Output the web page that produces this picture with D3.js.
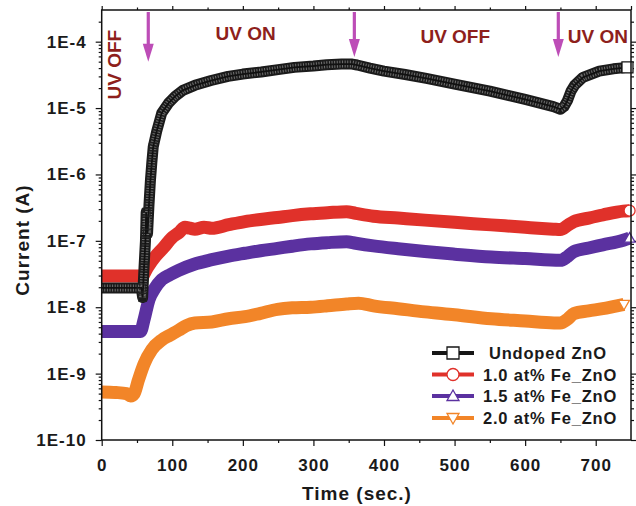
<!DOCTYPE html>
<html>
<head>
<meta charset="utf-8">
<script src="https://cdn.jsdelivr.net/npm/d3@7"></script>
<style>
body { margin: 0; background: #fff; }
text { font-family: "Liberation Sans", Arial, sans-serif; font-weight: bold; }
</style>
</head>
<body>
<svg id="chart" width="636" height="506"></svg>
<script>
// photocurrent vs time
const undopedTime = [0, 10, 20, 30, 40, 50, 56, 58, 60, 62, 63, 65, 67, 69, 71, 73, 78, 85, 95, 104, 115, 132, 155, 179, 200, 226, 250, 273, 300, 319, 340, 355, 362, 380, 400, 430, 460, 500, 550, 600, 640, 650, 655, 660, 665, 670, 682, 705, 725, 745];
const undopedCurrent = [1.95e-8, 1.95e-8, 1.95e-8, 1.95e-8, 1.95e-8, 1.95e-8, 1.95e-8, 1.4e-8, 4e-8, 1.0e-7, 2.7e-7, 1.3e-7, 3.5e-7, 8e-7, 1.5e-6, 2.6e-6, 4.5e-6, 8.4e-6, 1.2e-5, 1.5e-5, 1.85e-5, 2.2e-5, 2.6e-5, 3.0e-5, 3.25e-5, 3.5e-5, 3.8e-5, 4.1e-5, 4.3e-5, 4.5e-5, 4.6e-5, 4.6e-5, 4.45e-5, 4.0e-5, 3.6e-5, 3.2e-5, 2.8e-5, 2.3e-5, 1.8e-5, 1.35e-5, 1.05e-5, 9.6e-6, 1.05e-5, 1.3e-5, 1.8e-5, 2.2e-5, 2.9e-5, 3.6e-5, 3.9e-5, 4.1e-5];

const fe10Time = [0, 20, 40, 57, 65, 76, 88, 99, 110, 118, 125, 132, 145, 156, 180, 203, 225, 249, 270, 296, 320, 347, 360, 385, 420, 458, 500, 552, 600, 640, 650, 660, 669, 690, 710, 739, 748];
const fe10Current = [2.95e-8, 2.95e-8, 2.95e-8, 2.95e-8, 4e-8, 5.8e-8, 8e-8, 1.1e-7, 1.35e-7, 1.6e-7, 1.55e-7, 1.5e-7, 1.6e-7, 1.55e-7, 1.75e-7, 1.95e-7, 2.1e-7, 2.25e-7, 2.4e-7, 2.55e-7, 2.65e-7, 2.75e-7, 2.6e-7, 2.35e-7, 2.2e-7, 2.05e-7, 1.9e-7, 1.74e-7, 1.6e-7, 1.5e-7, 1.48e-7, 1.7e-7, 1.95e-7, 2.2e-7, 2.45e-7, 2.8e-7, 2.85e-7];

const fe15Time = [0, 20, 40, 55, 60, 67, 75, 85, 97, 109, 130, 156, 180, 203, 225, 249, 270, 296, 320, 347, 360, 385, 420, 458, 500, 552, 600, 650, 660, 669, 690, 710, 739, 748];
const fe15Current = [4.3e-9, 4.3e-9, 4.3e-9, 4.3e-9, 6.5e-9, 1.3e-8, 1.9e-8, 2.6e-8, 3.1e-8, 3.6e-8, 4.4e-8, 5.2e-8, 5.9e-8, 6.5e-8, 7.1e-8, 7.7e-8, 8.3e-8, 9.0e-8, 9.4e-8, 9.7e-8, 9.2e-8, 8.4e-8, 7.6e-8, 6.9e-8, 6.3e-8, 5.7e-8, 5.4e-8, 5.1e-8, 5.8e-8, 6.9e-8, 7.8e-8, 8.7e-8, 1.02e-7, 1.1e-7];

const fe20Time = [0, 20, 35, 41, 46, 52, 60, 71, 85, 97, 109, 120, 132, 156, 180, 203, 225, 249, 270, 296, 320, 347, 364, 385, 420, 458, 500, 552, 600, 641, 650, 660, 669, 690, 710, 730, 740];
const fe20Current = [5.3e-10, 5.2e-10, 5.0e-10, 4.6e-10, 5.0e-10, 8.0e-10, 1.4e-9, 2.3e-9, 3.2e-9, 3.8e-9, 4.5e-9, 5.3e-9, 5.8e-9, 6.0e-9, 6.7e-9, 7.2e-9, 8.1e-9, 9.3e-9, 9.8e-9, 1.0e-8, 1.05e-8, 1.12e-8, 1.15e-8, 1.05e-8, 9.5e-9, 8.5e-9, 7.7e-9, 6.7e-9, 6.2e-9, 5.8e-9, 5.8e-9, 6.6e-9, 8.0e-9, 8.8e-9, 9.5e-9, 1.05e-8, 1.1e-8];

const seriesNames = ['Undoped ZnO', '1.0 at% Fe_ZnO', '1.5 at% Fe_ZnO', '2.0 at% Fe_ZnO'];
const seriesColors = ['#161616', '#e0312a', '#5b31a0', '#f28528'];
const seriesSymbols = ['square', 'circle', 'triangle', 'triangleDown'];

const xTicks = [0, 100, 200, 300, 400, 500, 600, 700];
const yTicks = [1e-10, 1e-9, 1e-8, 1e-7, 1e-6, 1e-5, 1e-4];
const yTickLabels = ['1E-10', '1E-9', '1E-8', '1E-7', '1E-6', '1E-5', '1E-4'];

// UV switching marks
const arrowTimes = [66, 358, 647];
const arrowTips = [5e-5, 5.9e-5, 5.9e-5];
const uvLabels = ['UV ON', 'UV OFF', 'UV ON'];
const uvLabelTimes = [204, 501, 703];
const uvLabelLevels = [1.06e-4, 9.7e-5, 9.7e-5];
const uvOffStart = {text: 'UV OFF', time: 17, level: 4.5e-5};

const svg = d3.select('#chart');
const x = d3.scaleLinear().domain([0, 750]).range([101.7, 631]);
const y = d3.scaleLog().domain([1e-10, 3e-4]).range([440, 10]);

const series = [
	{t: undopedTime, v: undopedCurrent},
	{t: fe10Time, v: fe10Current},
	{t: fe15Time, v: fe15Current},
	{t: fe20Time, v: fe20Current}
].map((s, i) => ({
	name: seriesNames[i], color: seriesColors[i], symbol: seriesSymbols[i],
	points: s.t.map((t, j) => [t, s.v[j]])
}));

const line = d3.line().x(d => x(d[0])).y(d => y(d[1])).curve(d3.curveMonotoneX);
const lineLinear = d3.line().x(d => x(d[0])).y(d => y(d[1]));

function symbolPath(kind, size) {
	const h = size / 2;
	if (kind === 'square') return `M${-h},${-h}H${h}V${h}H${-h}Z`;
	if (kind === 'circle') return d3.arc()({innerRadius: 0, outerRadius: h, startAngle: 0, endAngle: 2 * Math.PI});
	if (kind === 'triangle') return `M0,${-h}L${h},${h * 0.75}L${-h},${h * 0.75}Z`;
	return `M0,${h}L${h},${-h * 0.75}L${-h},${-h * 0.75}Z`;
}

// minor log ticks
const minorY = [];
for (let e = -10; e <= -4; e++) {
	for (let k = 2; k <= 9; k++) {
		const v = k * Math.pow(10, e);
		if (v < 3e-4) minorY.push(v);
	}
}
const minorX = d3.range(50, 750, 100);

const axes = svg.append('g');

function styleAxis(g) {
	g.select('.domain').remove();
	g.selectAll('line').attr('stroke', '#111').attr('stroke-width', 1.2);
}

axes.append('g').attr('transform', 'translate(101.7,0)')
	.call(d3.axisLeft(y).tickValues(yTicks).tickFormat((d, i) => yTickLabels[i]).tickSize(6).tickPadding(9))
	.call(styleAxis)
	.call(g => g.selectAll('text').attr('font-size', 17).attr('fill', '#1a1a1a').style('letter-spacing', '1px'));
axes.append('g').attr('transform', 'translate(101.7,0)')
	.call(d3.axisLeft(y).tickValues(minorY).tickFormat('').tickSize(3)).call(styleAxis);
axes.append('g').attr('transform', 'translate(631,0)')
	.call(d3.axisRight(y).tickValues(yTicks).tickFormat('').tickSize(5)).call(styleAxis);
axes.append('g').attr('transform', 'translate(631,0)')
	.call(d3.axisRight(y).tickValues(minorY).tickFormat('').tickSize(3)).call(styleAxis);

axes.append('g').attr('transform', 'translate(0,440)')
	.call(d3.axisBottom(x).tickValues(xTicks).tickSize(6))
	.call(styleAxis)
	.call(g => g.selectAll('text').attr('font-size', 17).attr('fill', '#1a1a1a')
		.attr('y', 31).attr('dy', 0).style('letter-spacing', '1px'));
axes.append('g').attr('transform', 'translate(0,440)')
	.call(d3.axisBottom(x).tickValues(minorX).tickFormat('').tickSize(3)).call(styleAxis);
axes.append('g').attr('transform', 'translate(0,10)')
	.call(d3.axisTop(x).tickValues(xTicks.concat([750])).tickFormat('').tickSize(4)).call(styleAxis);
axes.append('g').attr('transform', 'translate(0,10)')
	.call(d3.axisTop(x).tickValues(minorX).tickFormat('').tickSize(2.5)).call(styleAxis);

// curves, lowest first
const plot = svg.append('g');
[3, 2, 1].forEach(i => {
	plot.append('path').attr('d', line(series[i].points))
		.attr('fill', 'none').attr('stroke', series[i].color)
		.attr('stroke-width', 13).attr('stroke-linejoin', 'round');
});

const undoped = series[0];
plot.append('path').attr('d', lineLinear(undoped.points))
	.attr('fill', 'none').attr('stroke', '#1b1b1b').attr('stroke-width', 11).attr('stroke-linejoin', 'round');
plot.append('path').attr('d', lineLinear(undoped.points))
	.attr('fill', 'none').attr('stroke', '#707070').attr('stroke-width', 7).attr('stroke-dasharray', '1,1.6');
plot.append('path').attr('d', lineLinear(undoped.points))
	.attr('fill', 'none').attr('stroke', '#111').attr('stroke-width', 1.8);

// hollow squares visible around the switch-on jump
plot.selectAll('.jump').data(undoped.points.filter(d => d[0] >= 56 && d[0] <= 73))
	.enter().append('path')
	.attr('transform', d => `translate(${x(d[0])},${y(d[1])})`)
	.attr('d', symbolPath('square', 8))
	.attr('fill', 'none').attr('stroke', '#222').attr('stroke-width', 1);

// end symbols
series.forEach(s => {
	const last = s.points[s.points.length - 1];
	plot.append('path')
		.attr('transform', `translate(${x(last[0])},${y(last[1])})`)
		.attr('d', symbolPath(s.symbol, 11))
		.attr('fill', '#fff').attr('stroke', s.color).attr('stroke-width', 1.3);
});

// frame
svg.append('rect').attr('x', 101.7).attr('y', 10).attr('width', 631 - 101.7).attr('height', 430)
	.attr('fill', 'none').attr('stroke', '#111').attr('stroke-width', 1.5);

// arrows
const arrowColor = '#bd4db7';
arrowTimes.forEach((t, i) => {
	const ax = x(t), tip = y(arrowTips[i]);
	svg.append('line').attr('x1', ax).attr('x2', ax).attr('y1', 12).attr('y2', tip - 15)
		.attr('stroke', arrowColor).attr('stroke-width', 3.2);
	svg.append('path').attr('d', `M${ax - 5.5},${tip - 18}L${ax + 5.5},${tip - 18}L${ax},${tip}Z`)
		.attr('fill', arrowColor);
});

const uvColor = '#8e1f1c';
uvLabels.forEach((txt, i) => {
	svg.append('text').attr('x', x(uvLabelTimes[i])).attr('y', y(uvLabelLevels[i]))
		.attr('text-anchor', 'middle').attr('font-size', 19).attr('fill', uvColor).text(txt);
});
svg.append('text')
	.attr('transform', `translate(${x(uvOffStart.time) + 7},${y(uvOffStart.level)}) rotate(-90)`)
	.attr('text-anchor', 'middle').attr('font-size', 19).attr('fill', uvColor).text(uvOffStart.text);

// axis titles
svg.append('text').attr('transform', 'translate(29,240) rotate(-90)')
	.attr('text-anchor', 'middle').attr('font-size', 19).attr('fill', '#1a1a1a')
	.style('letter-spacing', '1px').text('Current (A)');
svg.append('text').attr('x', 357).attr('y', 500)
	.attr('text-anchor', 'middle').attr('font-size', 19).attr('fill', '#1a1a1a')
	.style('letter-spacing', '1px').text('Time (sec.)');

// legend
const legend = svg.append('g');
const rowY = [353, 374.5, 396, 418];
series.forEach((s, i) => {
	const row = legend.append('g').attr('transform', `translate(0,${rowY[i]})`);
	row.append('line').attr('x1', 432).attr('x2', 474).attr('stroke', s.color).attr('stroke-width', 4);
	row.append('path').attr('transform', 'translate(453,0)').attr('d', symbolPath(s.symbol, 12))
		.attr('fill', '#fff').attr('stroke', s.color).attr('stroke-width', 1.3);
	row.append('text').attr('x', i === 0 ? 489 : 483).attr('y', 6)
		.attr('font-size', 16.5).attr('fill', '#1a1a1a').style('letter-spacing', '0.8px').text(s.name);
});
</script>
</body>
</html>
